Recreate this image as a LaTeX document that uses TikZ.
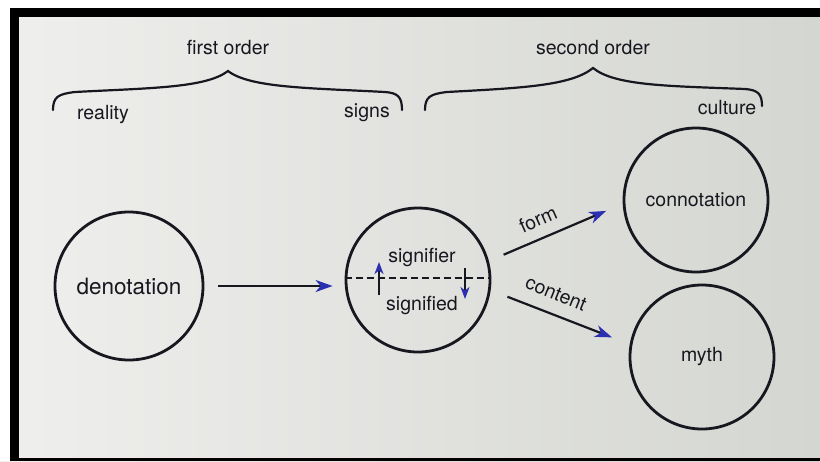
\documentclass[tikz,border=0pt]{standalone}
\usepackage{fontspec}
\setmainfont{TeX Gyre Heros}
\usetikzlibrary{arrows.meta,calc}
\definecolor{ink}{HTML}{17171F}
\definecolor{tipblue}{HTML}{2A30B0}
\definecolor{paperL}{HTML}{EFEFED}
\definecolor{paperR}{HTML}{D4D6D1}
\begin{document}
\begin{tikzpicture}[x=1pt,y=-1pt,
  circ/.style={circle,draw=ink,line width=2.8pt,minimum size=144pt,inner sep=0pt,
    font=\fontsize{19.5}{22}\selectfont,text=ink},
  lbl/.style={font=\fontsize{19.5}{22}\selectfont,text=ink,inner sep=0pt},
  conn/.style={draw=ink,line width=2.2pt,-{Stealth[length=17pt,width=12pt,inset=5pt,color=tipblue]}},
  smallarr/.style={draw=ink,line width=1.8pt,-{Stealth[length=12pt,width=9pt,inset=3.5pt,color=tipblue]}},
  bracecurve/.style={draw=ink,line width=2.2pt,line cap=round}]
\useasboundingbox (0,0) rectangle (820,461);
% paper and frame
\shade[left color=paperL,right color=paperR] (0,0) rectangle (820,461);
\fill[white] (0,0) rectangle (820,8);
\fill[white] (0,0) rectangle (10,461);
\fill[black] (10,8) rectangle (820,17);
\fill[black] (10,8) rectangle (19,461);
\fill[black] (10,458) rectangle (820,461);
% circles
\node[circ,minimum size=148pt,font=\fontsize{22.5}{26}\selectfont] (deno) at (129,286) {denotation};
\node[circ] (sig) at (418,280) {};
\node[circ] (conn) at (696,200) {connotation};
\node[circ] (myth) at (702,357) {myth};
\node[lbl] (sigr) at (422,257) {signifier};
\node[lbl] (sigd) at (422,305) {signified};
% dashed split
\draw[ink,line width=1.9pt,dash pattern=on 7pt off 4pt] ([yshift=2pt]sig.west) -- ([yshift=2pt]sig.east);
\draw[smallarr] ($(sig.center)+(-39,15)$) -- ($(sig.center)+(-39,-18)$);
\draw[smallarr] ($(sig.center)+(47,-12)$) -- ($(sig.center)+(47,19)$);
% connectors
\draw[conn,shorten <=14pt,shorten >=12pt] (deno.east) -- (deno.east -| sig.west);
\draw[conn,shorten <=16pt,shorten >=18pt] (sig.15) -- (conn.183);
\draw[conn,shorten <=18pt,shorten >=19pt] (sig.-8) -- (myth.170);
\node[lbl,rotate=24] (formlbl) at (538,219) {form};
\node[lbl,rotate=-22] (contlbl) at (556,294) {content};
% braces
\draw[bracecurve] (53,110) .. controls (53,97) and (58,94) .. (75,92)
  .. controls (150,88) and (206,88) .. (228,71)
  .. controls (250,88) and (310,88) .. (385,92)
  .. controls (398,93) and (402,97) .. (402,110);
\draw[bracecurve] (425,110) .. controls (425,97) and (430,94) .. (447,92)
  .. controls (520,88) and (571,86) .. (593,68)
  .. controls (615,86) and (670,86) .. (745,89)
  .. controls (758,90) and (762,94) .. (762,106);
% labels
\node[lbl] (first) at (228,48) {first order};
\node[lbl] (real) at (103,115) {reality};
\node[lbl] (signs) at (367,113) {signs};
\node[lbl] (second) at (593,48) {second order};
\node[lbl] (cult) at (727,108) {culture};
\end{tikzpicture}
\end{document}
